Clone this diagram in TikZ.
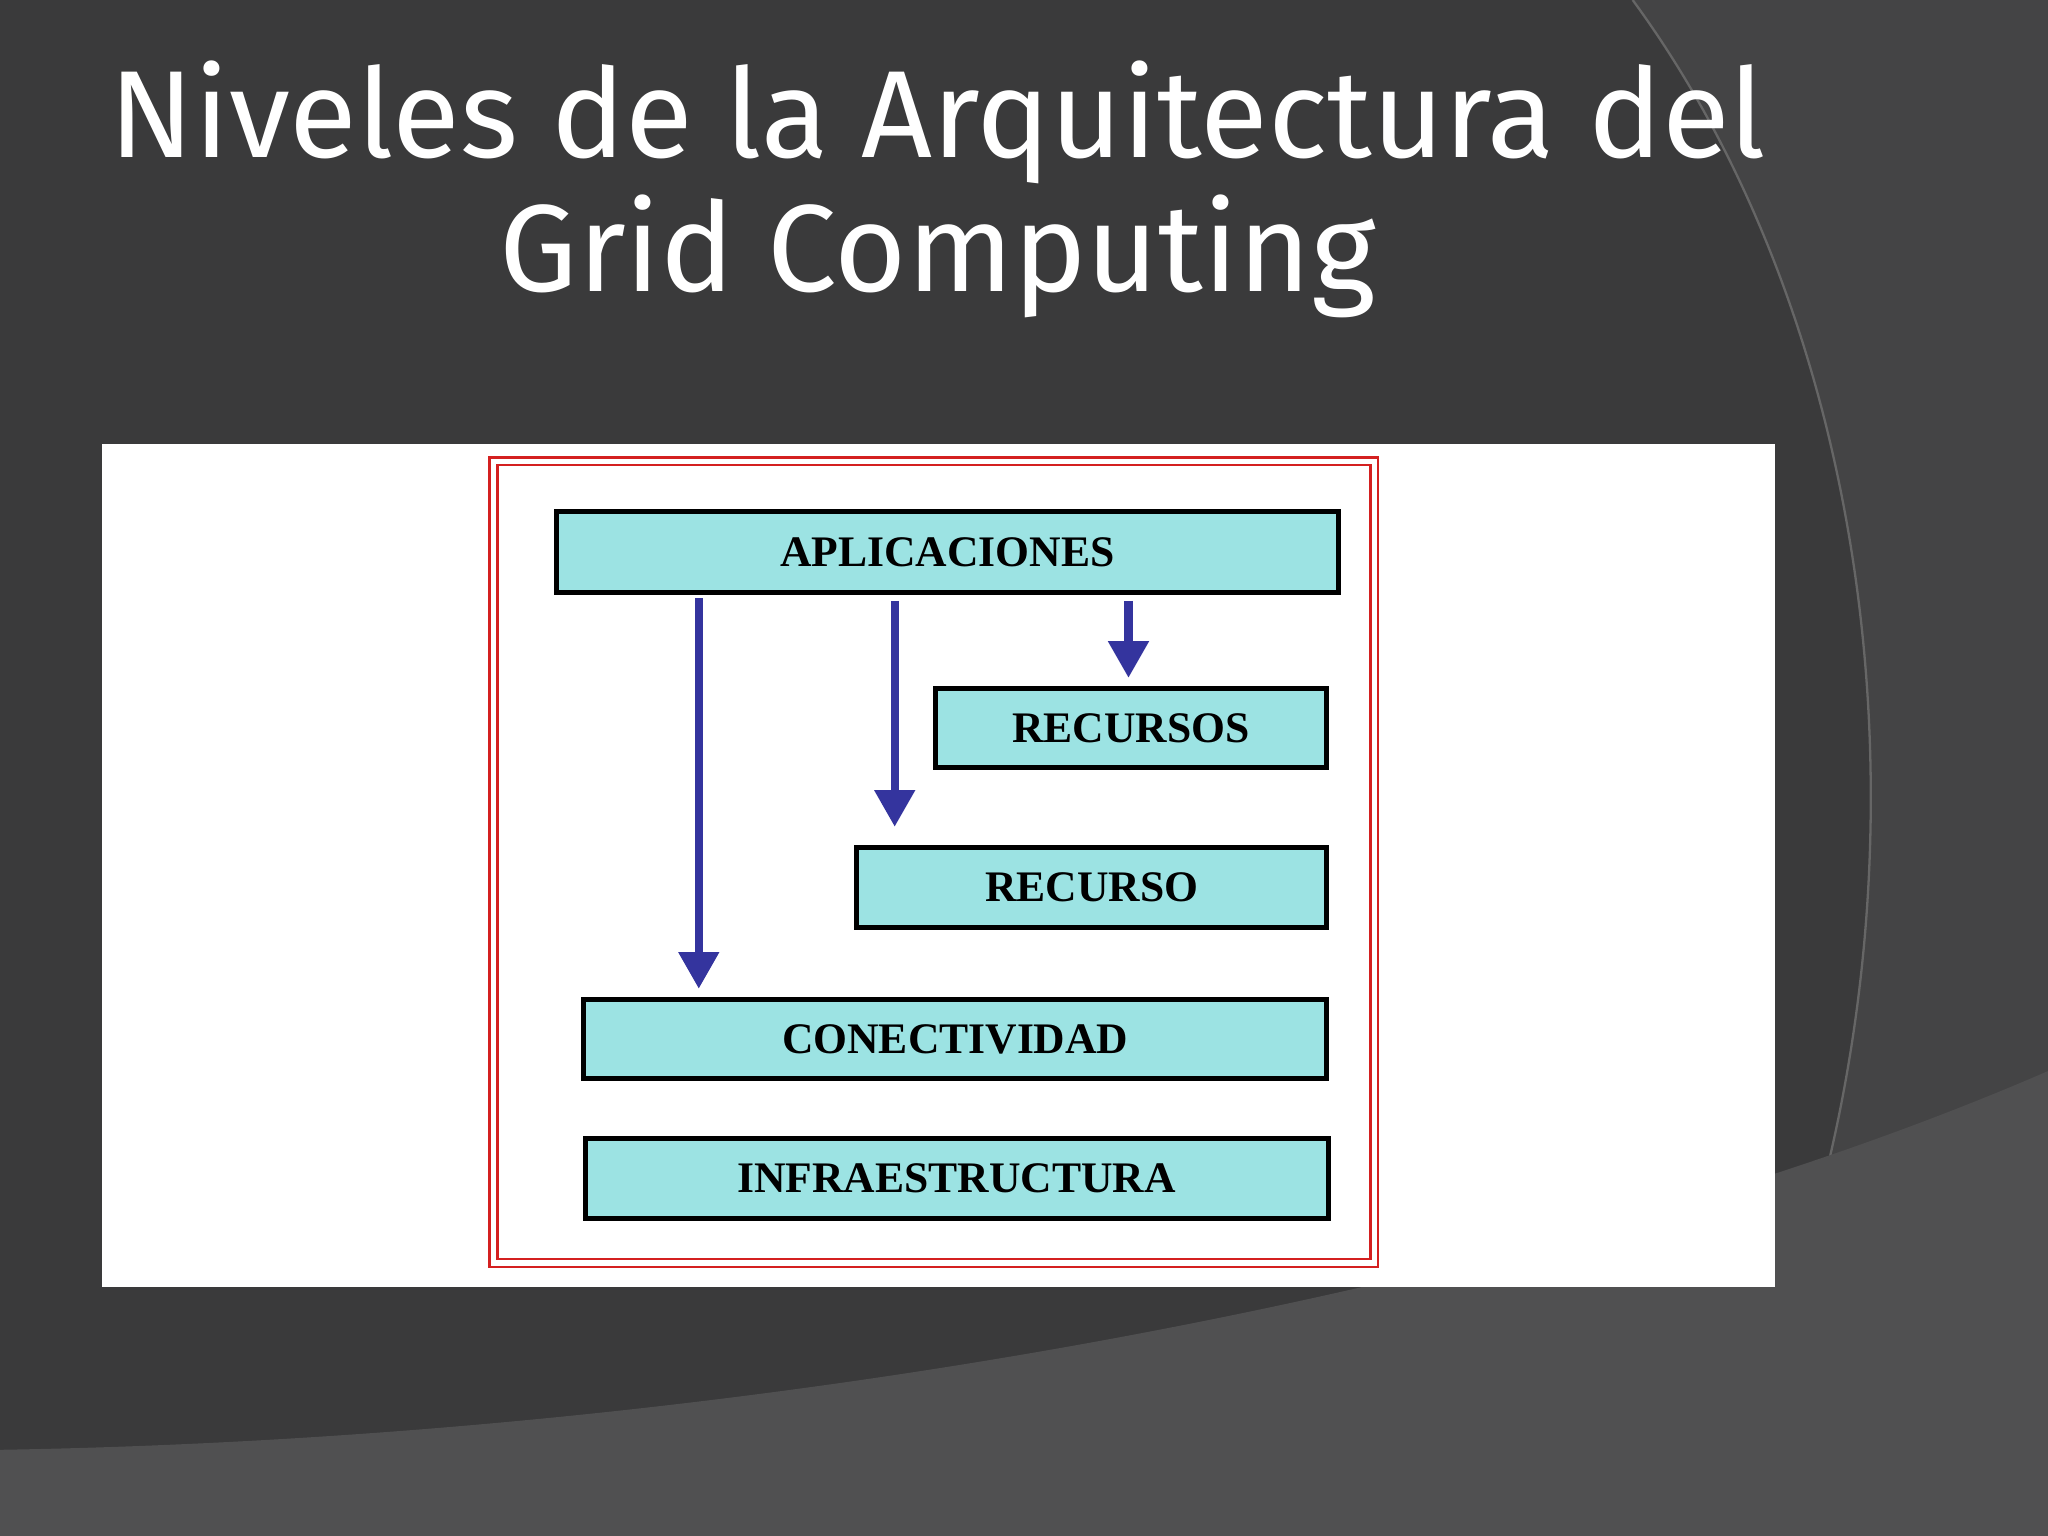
\documentclass[tikz,border=0pt]{standalone}
\usepackage{fontspec}
\setmainfont{Liberation Serif}
\newfontfamily\titlefont{Fira Sans}
\usetikzlibrary{arrows.meta}
\definecolor{bg}{HTML}{3A3A3B}
\definecolor{bgl}{HTML}{444445}
\definecolor{bgb}{HTML}{505051}
\definecolor{cyanbox}{HTML}{9CE3E3}
\definecolor{arrblue}{HTML}{34349E}
\definecolor{redb}{HTML}{D42020}
\tikzset{
 lvl/.style={draw=black,line width=2.2pt,fill=cyanbox,anchor=north west,inner sep=0pt,font=\bfseries\fontsize{19}{19}\selectfont},
 arr/.style={draw=arrblue,line width=3.5pt,-{Triangle[length=16pt,width=17pt]}},
}
\begin{document}
\begin{tikzpicture}[x=0.02cm,y=-0.02cm]
\useasboundingbox (0,0) rectangle (1568,1176);
\fill[bg] (0,0) rectangle (1568,1176);
\fill[bgl] (1250,0) .. controls (1470,300) and (1500,800) .. (1290,1176) -- (1568,1176) -- (1568,0) -- cycle;
\draw[line width=1pt,black!60] (1250,0) .. controls (1470,300) and (1500,800) .. (1290,1176);
\fill[bgb] (0,1110) .. controls (600,1100) and (1200,980) .. (1568,820) -- (1568,1176) -- (0,1176) -- cycle;
\node[text=white,font=\titlefont\fontsize{54}{58}\selectfont,align=center] (title) at (718,145) {Niveles de la Arquitectura del\\Grid Computing};
\fill[white] (78,340) rectangle (1359,985);
\draw[redb,line width=1.2pt] (375,350) rectangle (1055,970);
\draw[redb,line width=1.2pt] (381,356) rectangle (1049,964);
\node[lvl,minimum width=11.98cm,minimum height=1.24cm] (apl) at (424,390) {APLICACIONES};
\node[lvl,minimum width=6cm,minimum height=1.22cm] (rcs) at (714,525) {RECURSOS};
\node[lvl,minimum width=7.2cm,minimum height=1.22cm] (rc) at (654,647) {RECURSO};
\node[lvl,minimum width=11.38cm,minimum height=1.22cm] (con) at (445,763) {CONECTIVIDAD};
\node[lvl,minimum width=11.38cm,minimum height=1.22cm] (inf) at (446,870) {INFRAESTRUCTURA};
\coordinate (a1) at (535,458); \coordinate (b1) at (535,757);
\coordinate (a2) at (685,460); \coordinate (b2) at (685,633);
\coordinate (a3) at (864,460); \coordinate (b3) at (864,519);
\draw[arr] (a1) -- (b1);
\draw[arr] (a2) -- (b2);
\draw[arr] (a3) -- (b3);
\end{tikzpicture}
\end{document}
